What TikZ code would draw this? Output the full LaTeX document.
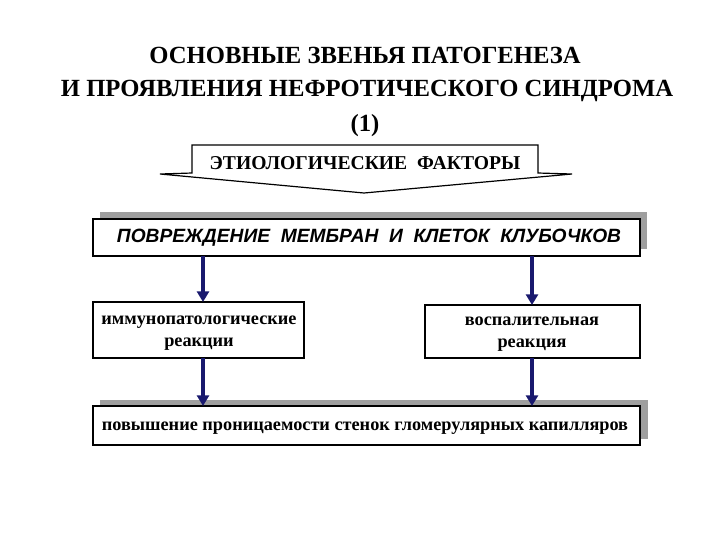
\documentclass[tikz,border=0pt]{standalone}
\usepackage{fontspec}
\setmainfont{Liberation Serif}
\newfontfamily\arialf{Liberation Sans}
\usetikzlibrary{arrows.meta}
\begin{document}
\begin{tikzpicture}[x=0.75pt,y=-0.75pt,
  box/.style={draw=black,fill=white,line width=0.8pt},
  shad/.style={fill=gray!75},
  conn/.style={draw={rgb,255:red,25;green,25;blue,110},line width=2.6pt,-{Triangle[length=8pt,width=9pt]}},
  ttl/.style={font=\fontsize{18.5}{22}\selectfont\bfseries},
  txt/.style={font=\fontsize{13.7}{16.5}\selectfont\bfseries,align=center}]
\useasboundingbox (0,0) rectangle (720,540);
\node[ttl] (t1) at (365,55) {ОСНОВНЫЕ ЗВЕНЬЯ ПАТОГЕНЕЗА};
\node[ttl] (t2) at (367,91) {И ПРОЯВЛЕНИЯ НЕФРОТИЧЕСКОГО СИНДРОМА};
\node[ttl] (t3) at (365,126) {(1)};
% arrow shape
\draw[line width=0.9pt,fill=white] (192,173) -- (192,145) -- (538,145) -- (538,173) -- (572,174) -- (364,193) -- (160,174) -- cycle;
\node[font=\fontsize{14.7}{18}\selectfont\bfseries] (ef) at (365,163) {ЭТИОЛОГИЧЕСКИЕ\ \ ФАКТОРЫ};
% main box
\fill[shad] (100,212) rectangle (647,249);
\draw[box] (93,219) rectangle (640,256);
\node[font=\arialf\fontsize{14.4}{17}\selectfont\bfseries\itshape] (mb) at (369,238) {ПОВРЕЖДЕНИЕ\ \ МЕМБРАН\ \ И\ \ КЛЕТОК\ \ КЛУБОЧКОВ};
\coordinate (mbl) at (203,256); \coordinate (mbr) at (532,256);
% side boxes
\draw[box] (93,302) rectangle (304,358);
\node[txt] (lb) at (199,333) {иммунопатологические\\реакции};
\draw[box] (425,305) rectangle (640,358);
\node[txt] (rb) at (532,334) {воспалительная\\реакция};
\coordinate (lbt) at (203,302); \coordinate (rbt) at (532,305);
\coordinate (lbb) at (203,358); \coordinate (rbb) at (532,358);
% bottom box
\fill[shad] (100,400) rectangle (648,439);
\draw[box] (93,406) rectangle (640,445);
\node[txt] (bb) at (365,428) {повышение проницаемости стенок гломерулярных капилляров};
\coordinate (bbl) at (203,406); \coordinate (bbr) at (532,406);
\draw[conn] (mbl) -- (lbt);
\draw[conn] (mbr) -- (rbt);
\draw[conn] (lbb) -- (bbl);
\draw[conn] (rbb) -- (bbr);
\end{tikzpicture}
\end{document}
